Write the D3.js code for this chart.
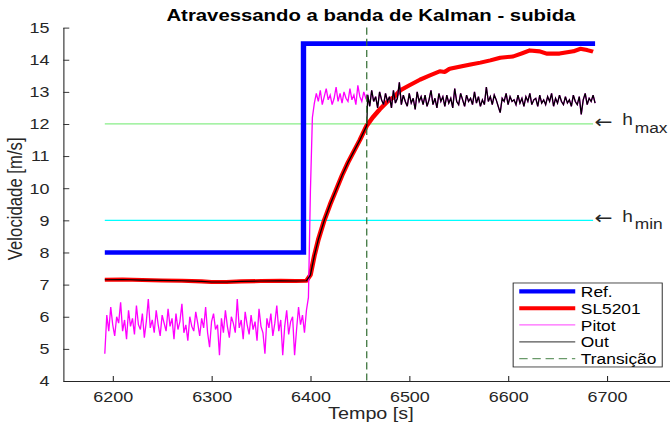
<!DOCTYPE html>
<html>
<head>
<meta charset="utf-8">
<script src="https://cdn.jsdelivr.net/npm/d3@7"></script>
<style>
    body { margin: 0; background: #fff; }
    text { font-family: "Liberation Sans", Arial, sans-serif; fill: #262626; }
</style>
</head>
<body>
<div id="chart"></div>
<script>
// tick labels
var xTicks = [6200, 6300, 6400, 6500, 6600, 6700];
var yTicks = [4, 5, 6, 7, 8, 9, 10, 11, 12, 13, 14, 15];

// Ref. (step)
var refTime = [6192, 6393, 6393, 6688];
var refVals = [8, 8, 14.5, 14.5];

// SL5201
var slTime = [6192, 6210, 6230, 6250, 6270, 6290, 6300, 6315, 6330, 6350, 6370, 6385, 6396,
    6400, 6404, 6408, 6414, 6420, 6426, 6432, 6438, 6444, 6450, 6457, 6463, 6470, 6478, 6485,
    6491, 6500, 6511, 6520, 6531, 6536, 6541, 6552, 6562, 6572, 6582, 6592, 6605, 6614, 6622,
    6632, 6639, 6652, 6666, 6673, 6680, 6686];
var slVals = [7.15, 7.16, 7.14, 7.13, 7.12, 7.1, 7.08, 7.08, 7.1, 7.11, 7.12, 7.11, 7.12,
    7.3, 7.9, 8.4, 9.0, 9.5, 9.95, 10.4, 10.8, 11.15, 11.5, 11.95, 12.2, 12.45, 12.7, 12.85,
    13.05, 13.2, 13.38, 13.5, 13.64, 13.62, 13.72, 13.79, 13.85, 13.91, 13.98, 14.06, 14.1, 14.2, 14.29,
    14.26, 14.19, 14.19, 14.26, 14.34, 14.3, 14.25];

// Pitot, one sample every 2 s starting at 6192 s
var pitotStart = 6192;
var pitotStep = 2;
var pitotLow = [4.85, 6.05, 5.55, 6.3, 5.75, 5.4, 6.0, 5.8, 6.45, 5.55, 5.9, 5.3, 6.2, 5.7, 5.95, 5.45, 6.35, 5.75, 5.6, 6.1, 5.35, 5.85, 6.55, 5.65, 5.9, 5.5, 6.2, 5.75, 5.4, 6.05,
    5.8, 5.55, 6.25, 5.7, 5.95, 5.3, 6.1, 5.6, 5.85, 6.4, 5.5, 5.75, 5.25, 6.0, 5.7, 5.55, 6.15, 5.8, 5.4, 5.95, 5.65, 6.3, 5.5, 5.05, 5.85, 6.1, 5.6, 5.75, 4.8, 5.95,
    5.5, 6.2, 5.7, 5.35, 6.0, 5.8, 5.5, 6.55, 5.65, 5.9, 5.3, 6.15, 5.75, 5.45, 6.05, 5.6, 5.85, 5.25, 6.25, 5.7, 5.5, 4.85, 5.95, 5.65, 6.1, 5.4, 5.8, 6.35, 5.55, 5.9,
    4.8, 5.7, 6.2, 5.45, 5.85, 6.0, 4.8, 5.6, 6.3, 5.75, 6.05, 5.5, 6.2];
var pitotHigh = [6.6, 9.9, 12.2, 12.65,
    12.95, 12.7, 13.05, 12.6, 12.85, 13.1, 12.75, 12.9, 12.6, 12.8, 13.15, 12.7, 12.95, 12.65, 13.0, 12.8, 12.7, 13.1, 12.75, 12.9, 12.6, 13.2, 12.85, 12.7, 13.0, 12.8,
    12.9, 12.55, 13.05, 12.7, 12.85, 12.5, 13.0, 12.75, 12.6, 12.95, 12.7, 12.85, 12.5, 13.05, 12.65, 12.8, 13.3, 12.6, 12.9, 12.7,
    12.55, 12.95, 12.65, 12.8, 12.45, 13.0, 12.7, 12.85, 12.6, 12.9, 12.55, 12.75, 13.05, 12.6, 12.8, 12.5, 12.95, 12.7, 12.85, 12.55,
    12.9, 12.65, 12.8, 12.5, 13.1, 12.7, 12.6, 12.95, 12.75, 12.55, 12.9, 12.7, 12.8, 12.6, 13.0, 12.65, 12.85, 12.55, 12.75, 12.6,
    13.15, 12.7, 12.85, 12.6, 12.9, 12.75, 12.55, 12.35, 12.8, 12.7, 12.95, 12.6, 12.85, 12.7, 12.75, 12.6, 12.9, 12.65, 12.8, 12.55,
    12.85, 12.7, 12.95, 12.6, 12.75, 12.8, 12.55, 12.9, 12.65, 12.75, 12.6, 12.85, 12.7, 12.95, 12.55, 12.8, 12.65, 12.9, 12.7, 12.6,
    12.85, 12.65, 12.75, 12.55, 12.9, 12.7, 12.6, 12.85, 12.3, 12.75, 12.95, 12.6, 12.8, 12.7, 12.9, 12.65];

// Kalman band + transition
var hTime = [6192, 6686];
var hMax = 12;
var hMin = 9;
var transitionT = 6457;

var legendNames = ["Ref.", "SL5201", "Pitot", "Out", "Transição"];

// build point lists
var refData = refTime.map(function(t, i){ return {t: t, v: refVals[i]}; });
var slData = slTime.map(function(t, i){ return {t: t, v: slVals[i]}; });
var pitotData = pitotLow.concat(pitotHigh).map(function(v, i){
    return {t: pitotStart + i * pitotStep, v: v};
});
// Out follows SL5201 until the transition, Pitot afterwards
var outData = slData.filter(function(d){ return d.t <= transitionT; })
    .concat(pitotData.filter(function(d){ return d.t > transitionT; }));

// figure drawn in 560x420 units, stretched to 670x426
var svg = d3.select("#chart")
    .append("svg")
    .attr("width", 670)
    .attr("height", 426)
    .attr("viewBox", "0 0 560 420")
    .attr("preserveAspectRatio", "none");

var x = d3.scaleLinear().domain([6150, 6765]).range([52.9, 561]);
var y = d3.scaleLinear().domain([4, 15]).range([375.6, 27.2]);

var line = d3.line()
    .x(function(d){ return x(d.t); })
    .y(function(d){ return y(d.v); });

// axes (ticks pointing in, no box)
var xAxis = svg.append("g")
    .attr("transform", "translate(0," + y(4) + ")")
    .call(d3.axisBottom(x).tickValues(xTicks).tickFormat(d3.format("d"))
        .tickSizeInner(-5).tickSizeOuter(0).tickPadding(10));
var yAxis = svg.append("g")
    .attr("transform", "translate(" + x(6150) + ",0)")
    .call(d3.axisLeft(y).tickValues(yTicks).tickFormat(d3.format("d"))
        .tickSizeInner(-5).tickSizeOuter(0).tickPadding(11.5));

[xAxis, yAxis].forEach(function(ax){
    ax.select(".domain").attr("stroke", "#262626").attr("stroke-width", 0.9);
    ax.selectAll(".tick line").attr("stroke", "#262626").attr("stroke-width", 0.9);
    ax.selectAll(".tick text").attr("fill", "#262626")
        .style("font-family", "'Liberation Sans', Arial, sans-serif").style("font-size", "15px");
});

// band lines
svg.append("line")
    .attr("x1", x(hTime[0])).attr("x2", x(hTime[1]))
    .attr("y1", y(hMax)).attr("y2", y(hMax))
    .attr("stroke", "#88ee88").attr("stroke-width", 1.3);
svg.append("line")
    .attr("x1", x(hTime[0])).attr("x2", x(hTime[1]))
    .attr("y1", y(hMin)).attr("y2", y(hMin))
    .attr("stroke", "#00ffff").attr("stroke-width", 1.3);

// series
svg.append("path").datum(refData).attr("d", line)
    .attr("fill", "none").attr("stroke", "#0000ff").attr("stroke-width", 4.5);
svg.append("path").datum(slData).attr("d", line)
    .attr("fill", "none").attr("stroke", "#ff0000").attr("stroke-width", 4)
    .attr("stroke-linejoin", "round");
svg.append("path").datum(pitotData).attr("d", line)
    .attr("fill", "none").attr("stroke", "#ff00ff").attr("stroke-width", 1.1);
svg.append("path").datum(outData).attr("d", line)
    .attr("fill", "none").attr("stroke", "#000000").attr("stroke-width", 1.1);

// transition
svg.append("line")
    .attr("x1", x(transitionT)).attr("x2", x(transitionT))
    .attr("y1", y(15)).attr("y2", y(4))
    .attr("stroke", "#2e6b2e").attr("stroke-width", 1)
    .attr("stroke-dasharray", "7,4");

// h_max / h_min notes
function bandNote(val, sub){
    var t = svg.append("text")
        .attr("y", y(val) + 1.5)
        .style("font-size", "16px");
    t.append("tspan").attr("x", 497).attr("dy", 2).style("font-family", "'DejaVu Sans', sans-serif")
        .style("font-size", "18px").text("\u2190");
    t.append("tspan").attr("x", 520).attr("dy", -2).text("h");
    t.append("tspan").attr("x", 530.5).attr("dy", 7).style("font-size", "14.5px").text(sub);
}
bandNote(hMax, "max");
bandNote(hMin, "min");

// title and labels
svg.append("text")
    .attr("x", 310).attr("y", 20.7)
    .attr("text-anchor", "middle")
    .style("font-size", "17px").style("font-weight", "bold")
    .style("fill", "#000")
    .text("Atravessando a banda de Kalman - subida");
svg.append("text")
    .attr("x", 310).attr("y", 413.5)
    .attr("text-anchor", "middle")
    .style("font-size", "16.5px")
    .text("Tempo [s]");
svg.append("text")
    .attr("transform", "translate(18.4,196) rotate(-90)")
    .attr("text-anchor", "middle")
    .style("font-size", "16.5px")
    .text("Velocidade [m/s]");

// legend
var legendStyle = [
    {color: "#0000ff", width: 4, dash: null},
    {color: "#ff0000", width: 4, dash: null},
    {color: "#ff66ff", width: 1.2, dash: null},
    {color: "#555555", width: 1.2, dash: null},
    {color: "#6a9a6a", width: 1.2, dash: "7,4"}
];
var legend = svg.append("g");
legend.append("rect")
    .attr("x", 428.9).attr("y", 279)
    .attr("width", 124.6).attr("height", 82.8)
    .attr("fill", "#fff").attr("stroke", "#262626").attr("stroke-width", 0.8);

var rowH = 82.8 / legendNames.length;
legendNames.forEach(function(name, i){
    var cy = 279 + (i + 0.5) * rowH;
    legend.append("line")
        .attr("x1", 434).attr("x2", 480.8)
        .attr("y1", cy).attr("y2", cy)
        .attr("stroke", legendStyle[i].color)
        .attr("stroke-width", legendStyle[i].width)
        .attr("stroke-dasharray", legendStyle[i].dash);
    legend.append("text")
        .attr("x", 485.5).attr("y", cy + 5.5)
        .style("font-size", "14.5px")
        .style("fill", "#000")
        .text(name);
});
</script>
</body>
</html>
